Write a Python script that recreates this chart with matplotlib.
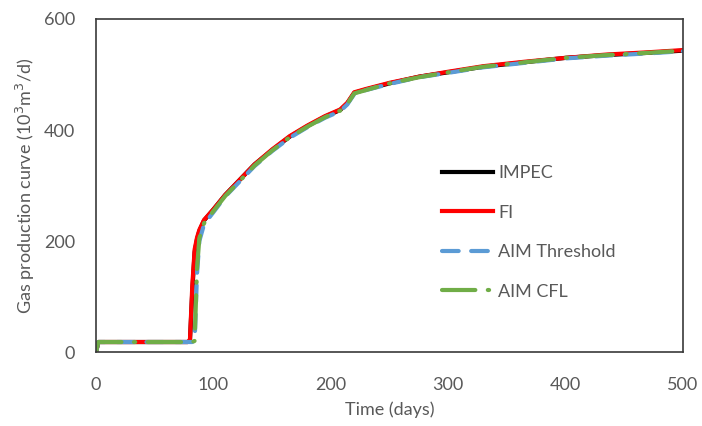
import numpy as np
import matplotlib.pyplot as plt

# days and gas rate (10^3 m^3/d)
days = [0, 2, 40, 78, 80, 82, 84, 86, 88, 92, 100, 110, 120, 135, 150, 165, 180,
        195, 208, 214, 220, 230, 250, 275, 300, 330, 365, 400, 435, 470, 500]
impec = [0, 18, 18, 18, 20, 110, 180, 203, 218, 237, 257, 283, 305, 338, 364, 388, 407,
         424, 436, 448, 467, 473, 484, 496, 504, 514, 522, 530, 535, 539, 543]
fi = [0, 18, 18, 18, 22, 120, 185, 206, 220, 238, 257, 283, 305, 338, 365, 389, 408,
      425, 437, 449, 468, 474, 485, 496, 505, 515, 523, 530, 536, 540, 544]
aim_threshold = [0, 18, 18, 18, 18, 18, 20, 140, 200, 230, 252, 280, 302, 335, 362, 386, 405,
                 422, 434, 446, 465, 472, 483, 495, 503, 513, 521, 529, 534, 538, 542]
aim_cfl = [0, 18, 18, 18, 18, 18, 20, 150, 205, 232, 254, 281, 303, 336, 363, 387, 406,
           423, 435, 447, 466, 472, 484, 495, 504, 514, 522, 530, 535, 539, 543]

grey = '#595959'
plt.rcParams['font.family'] = ['Lato', 'DejaVu Sans']

fig = plt.figure(figsize=(7.02, 4.26), dpi=100)
ax = fig.add_axes([0.1368, 0.1737, 0.8362, 0.7817])

ax.plot(days, impec, color='black', lw=3, label='IMPEC')
ax.plot(days, fi, color='#ff0000', lw=3, label='FI')
ax.plot(days, aim_threshold, color='#5b9bd5', lw=3, ls=(0, (4, 3)),
        dash_capstyle='round', label='AIM Threshold')
ax.plot(days, aim_cfl, color='#70ad47', lw=3, ls=(0, (8, 3, 0.3, 3)),
        dash_capstyle='round', label='AIM CFL')

ax.set_xlim(0, 500)
ax.set_ylim(0, 600)
ax.set_xticks(np.arange(0, 501, 100))
ax.set_yticks(np.arange(0, 601, 200))
ax.tick_params(length=0, labelsize=13, colors=grey)
ax.tick_params(axis='x', pad=18)
ax.tick_params(axis='y', pad=15)
for s in ax.spines.values():
    s.set_color('#3a3a3a')
    s.set_linewidth(1.2)

ax.set_xlabel('Time (days)', fontsize=13, color=grey, labelpad=6)
ax.set_ylabel('Gas production curve (10$^3$m$^3$/d)', fontsize=13, color=grey, labelpad=5)

leg = ax.legend(loc='upper left', bbox_to_anchor=(0.562, 0.61), frameon=False,
                fontsize=13, handlelength=2.8, handletextpad=0.3, labelspacing=1.3)
for t in leg.get_texts():
    t.set_color(grey)

fig.savefig('out.png', dpi=100)
